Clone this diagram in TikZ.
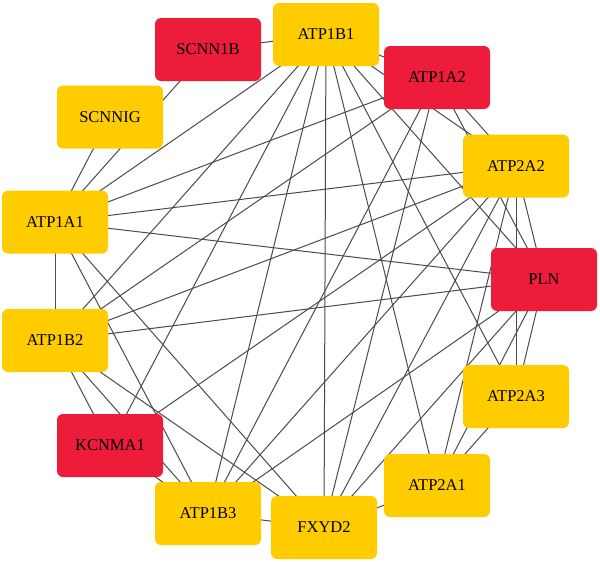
\documentclass[tikz,border=0pt]{standalone}
\usepackage{fontspec}
\setmainfont{Liberation Serif}
\usetikzlibrary{backgrounds}
\definecolor{genyel}{RGB}{255,204,0}
\definecolor{genred}{RGB}{236,28,58}
\definecolor{edgegray}{RGB}{75,75,75}
\begin{document}
\begin{tikzpicture}[x=1pt,y=-1pt,
  gene/.style={rounded corners=6pt, minimum width=106pt, minimum height=63pt, inner sep=0pt, font=\fontsize{16.5}{19}\selectfont, text=black},
  yelgene/.style={gene, fill=genyel},
  redgene/.style={gene, fill=genred},
  edgeline/.style={draw=edgegray, line width=1pt}]
\useasboundingbox (0,0) rectangle (600,562);
\node[yelgene] (B1) at (326,34.5) {ATP1B1};
\node[redgene] (SB) at (208,49.5) {SCNN1B};
\node[redgene] (A2) at (437,77.5) {ATP1A2};
\node[yelgene] (SG) at (110,117) {SCNNIG};
\node[yelgene] (P2) at (516,166) {ATP2A2};
\node[yelgene] (A1) at (55,222) {ATP1A1};
\node[redgene] (PLN) at (544,279.5) {PLN};
\node[yelgene] (B2) at (55,340.5) {ATP1B2};
\node[yelgene] (P3) at (516,396.5) {ATP2A3};
\node[redgene] (K) at (110,445.5) {KCNMA1};
\node[yelgene] (P1) at (437,485.5) {ATP2A1};
\node[yelgene] (B3) at (208,513.5) {ATP1B3};
\node[yelgene] (F) at (324,527.5) {FXYD2};
\begin{pgfonlayer}{background}
\foreach \a/\b in {SB/B1, A1/SB, SG/A1, A1/B1, A1/A2, A1/P2, A1/PLN, A1/B2, A1/B3, A1/F,
  B1/F, B1/P1, B1/P3, B1/PLN, B1/P2, B1/A2, B1/K, B1/B2, B1/B3,
  A2/B2, A2/B3, A2/F, A2/P2, A2/PLN,
  B2/P2, B2/PLN, B2/K, B2/B3, B2/F,
  K/B3, K/P2, B3/F, B3/P2, B3/PLN,
  F/P1, F/P2, F/PLN, P1/P2, P1/PLN, P1/P3, P2/P3, P2/PLN, PLN/P3}
  \draw[edgeline] (\a.center) -- (\b.center);
\end{pgfonlayer}
\end{tikzpicture}
\end{document}
